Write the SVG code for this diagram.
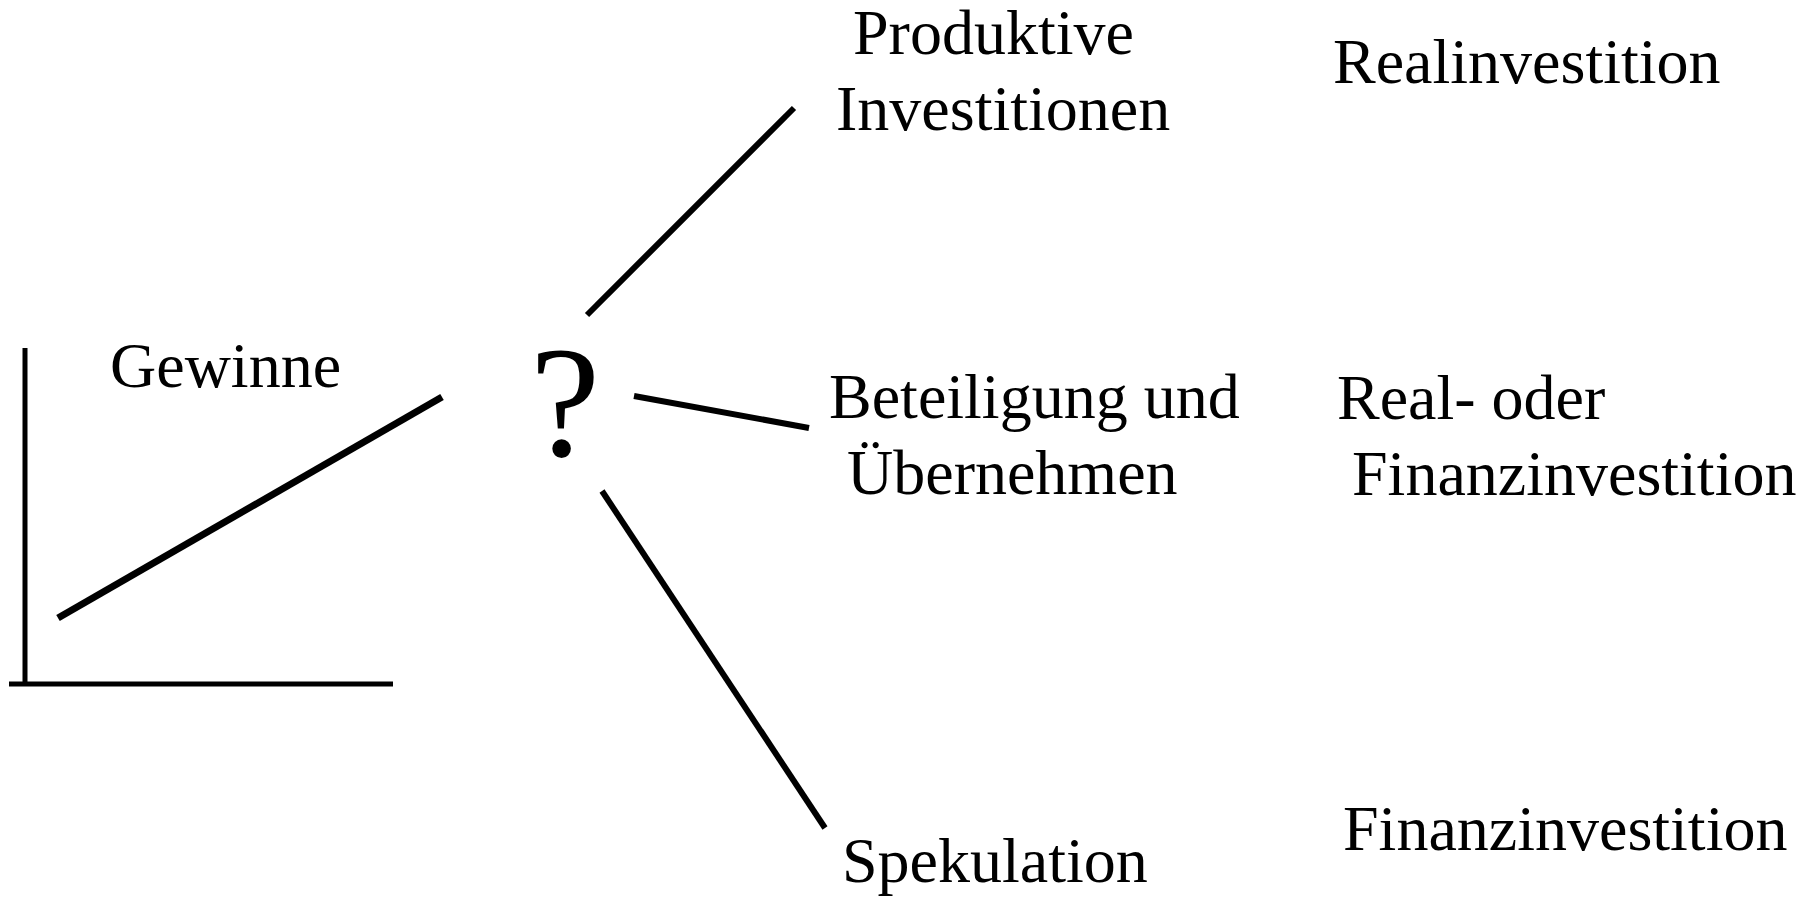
<svg xmlns="http://www.w3.org/2000/svg" width="1815" height="898" viewBox="0 0 1815 898">
  <style>
    text { font-family: "Liberation Serif", "Times New Roman", serif; font-size: 64px; fill: #000; }
    .q { font-size: 158px; }
    .axis { stroke: #000; stroke-width: 5; fill: none; }
    .trend { stroke: #000; stroke-width: 7; fill: none; }
    .branch { stroke: #000; stroke-width: 6; fill: none; }
  </style>
  <rect width="1815" height="898" fill="#fff"/>

  <!-- profit chart -->
  <g id="chart">
    <line class="axis" x1="25" y1="348" x2="25" y2="686"/>
    <line class="axis" x1="9" y1="684" x2="393" y2="684"/>
    <line class="trend" x1="58" y1="618" x2="442" y2="397"/>
    <text x="110" y="387">Gewinne</text>
  </g>

  <g id="question">
    <text class="q" x="530" y="456">?</text>
  </g>

  <g id="connectors">
    <line class="branch" x1="587" y1="315" x2="794" y2="108"/>
    <line class="branch" x1="634" y1="396" x2="809" y2="428"/>
    <line class="branch" x1="602" y1="491" x2="825" y2="828"/>
  </g>

  <g id="produktive">
    <text x="853" y="54">Produktive</text>
    <text x="836" y="130">Investitionen</text>
  </g>

  <g id="beteiligung">
    <text x="829" y="418">Beteiligung und</text>
    <text x="847" y="494">Übernehmen</text>
  </g>

  <g id="spekulation">
    <text x="842" y="882">Spekulation</text>
  </g>

  <g id="realinvestition">
    <text x="1333" y="83">Realinvestition</text>
  </g>

  <g id="real-oder-finanz">
    <text x="1337" y="419">Real- oder</text>
    <text x="1352" y="495">Finanzinvestition</text>
  </g>

  <g id="finanzinvestition">
    <text x="1343" y="850">Finanzinvestition</text>
  </g>
</svg>
